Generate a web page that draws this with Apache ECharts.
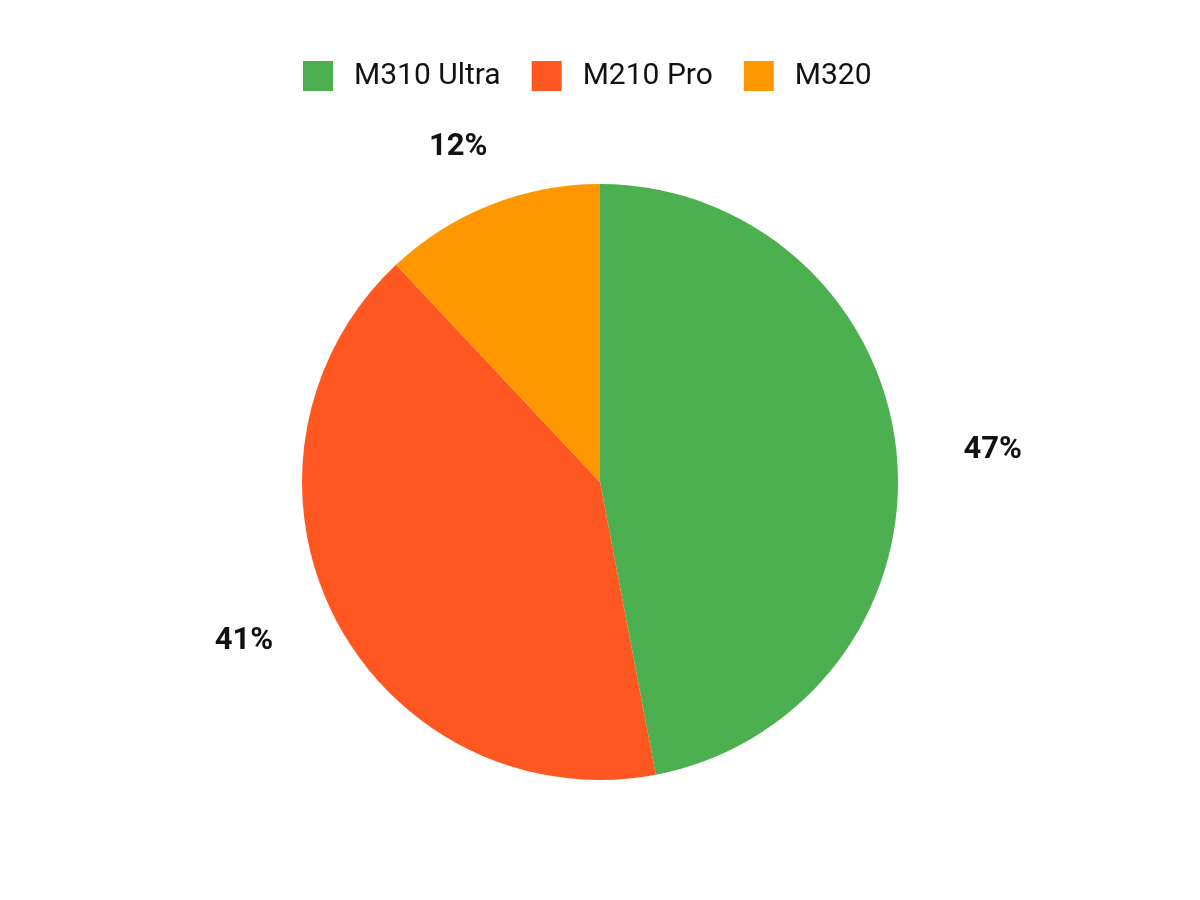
<!DOCTYPE html>
<html><head><meta charset="utf-8">
<script src="https://cdn.jsdelivr.net/npm/echarts@6/dist/echarts.min.js"></script>
<style>html,body{margin:0;padding:0;background:#fff}#c{width:1200px;height:900px}</style>
</head><body><div id="c"></div>
<script>
const categories = ['M310 Ultra', 'M210 Pro', 'M320'];
const values = [47, 41, 12];
const colors = ['#4CAF50', '#FF5722', '#FF9800'];

// label placement tweaks (layout only)
const labelLineTweaks = [
  { length: 42, length2: 20 },
  { length: 52, length2: 10 },
  { length: 62, length2: -25 }
];

const chart = echarts.init(document.getElementById('c'));
chart.setOption({
  animation: false,
  color: colors,
  legend: {
    top: 56,
    left: 298,
    itemWidth: 30,
    itemHeight: 30,
    itemGap: 31,
    icon: 'rect',
    textStyle: { fontFamily: 'Roboto', fontSize: 30, color: '#111', padding: [0, 0, 0, 16] },
    data: categories
  },
  series: [{
    type: 'pie',
    center: [600, 482],
    radius: 298,
    startAngle: 90,
    clockwise: true,
    avoidLabelOverlap: false,
    data: categories.map((n, i) => ({
      name: n,
      value: values[i],
      labelLine: Object.assign({ show: false }, labelLineTweaks[i])
    })),
    label: {
      show: true,
      position: 'outside',
      formatter: p => p.value + '%',
      fontFamily: 'Roboto',
      fontSize: 31,
      fontWeight: 'bold',
      color: '#111'
    },
    labelLine: { show: false, length: 40, length2: 20 },
    itemStyle: { borderWidth: 0 }
  }]
});
</script></body></html>
